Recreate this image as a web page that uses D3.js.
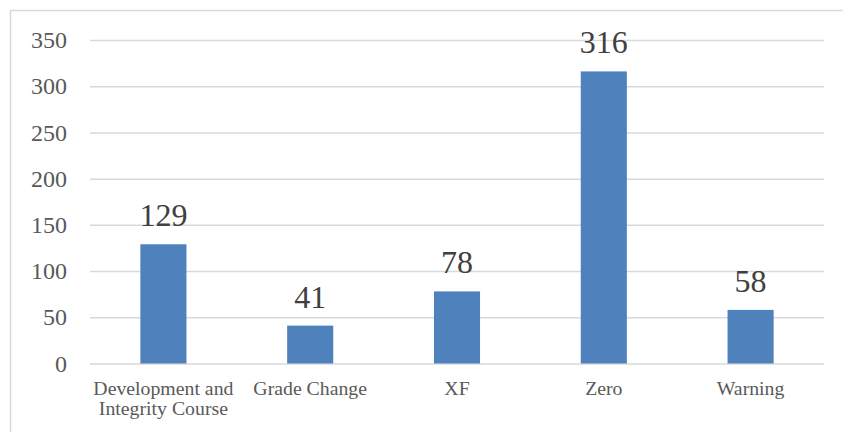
<!DOCTYPE html>
<html>
<head>
<meta charset="utf-8">
<script src="https://cdn.jsdelivr.net/npm/d3@7"></script>
<style>
  body { margin: 0; background: #fff; }
  svg { display: block; }
</style>
</head>
<body>
<div id="chart"></div>
<script>
const categories = [["Development and", "Integrity Course"], ["Grade Change"], ["XF"], ["Zero"], ["Warning"]];
const values = [129, 41, 78, 316, 58];
const yTicks = [0, 50, 100, 150, 200, 250, 300, 350];

const W = 843, H = 432;
const margin = { top: 40, right: 19, bottom: 68.5, left: 90 };
const width = W - margin.left - margin.right;
const height = H - margin.top - margin.bottom;
const font = "'Liberation Serif', serif";
const textColor = "#595959";

const svg = d3.select("#chart").append("svg")
    .attr("width", W)
    .attr("height", H);

svg.append("rect")
    .attr("x", 10.5).attr("y", 10.5)
    .attr("width", W).attr("height", H)
    .attr("fill", "none")
    .attr("stroke", "#d9d9d9")
    .attr("stroke-width", 1.5);

const g = svg.append("g")
    .attr("transform", `translate(${margin.left},${margin.top})`);

const keys = categories.map(c => c.join(" "));
const x = d3.scaleBand().domain(keys).range([0, width]).padding(0);
const y = d3.scaleLinear().domain([0, 350]).range([height, 0]);
const barW = x.bandwidth() * 0.314;

// gridlines + y labels
const yAxis = g.append("g")
    .call(d3.axisLeft(y).tickValues(yTicks).tickSize(-width).tickPadding(23));
yAxis.select(".domain").remove();
yAxis.selectAll(".tick line").attr("stroke", "#d9d9d9").attr("stroke-width", 1.5);
yAxis.selectAll(".tick text")
    .attr("fill", textColor)
    .style("font-family", font)
    .style("font-size", "24px");

g.selectAll(".bar")
    .data(values)
    .enter()
    .append("rect")
    .attr("class", "bar")
    .attr("x", (d, i) => x(keys[i]) + x.bandwidth() / 2 - barW / 2)
    .attr("y", d => y(d))
    .attr("width", barW)
    .attr("height", d => height - y(d))
    .attr("fill", "#4f81bd");

g.selectAll(".val")
    .data(values)
    .enter()
    .append("text")
    .attr("class", "val")
    .attr("x", (d, i) => x(keys[i]) + x.bandwidth() / 2)
    .attr("y", d => y(d) - 18)
    .attr("text-anchor", "middle")
    .attr("fill", "#404040")
    .style("font-family", font)
    .style("font-size", "32px")
    .text(d => d);

const xl = g.selectAll(".cat")
    .data(categories)
    .enter()
    .append("text")
    .attr("class", "cat")
    .attr("text-anchor", "middle")
    .attr("fill", textColor)
    .style("font-family", font)
    .style("font-size", "19.8px");
xl.each(function(c, i) {
    const t = d3.select(this);
    c.forEach((line, j) => {
        t.append("tspan")
            .attr("x", x(keys[i]) + x.bandwidth() / 2)
            .attr("y", height + 31 + j * 20)
            .text(line);
    });
});
</script>
</body>
</html>
